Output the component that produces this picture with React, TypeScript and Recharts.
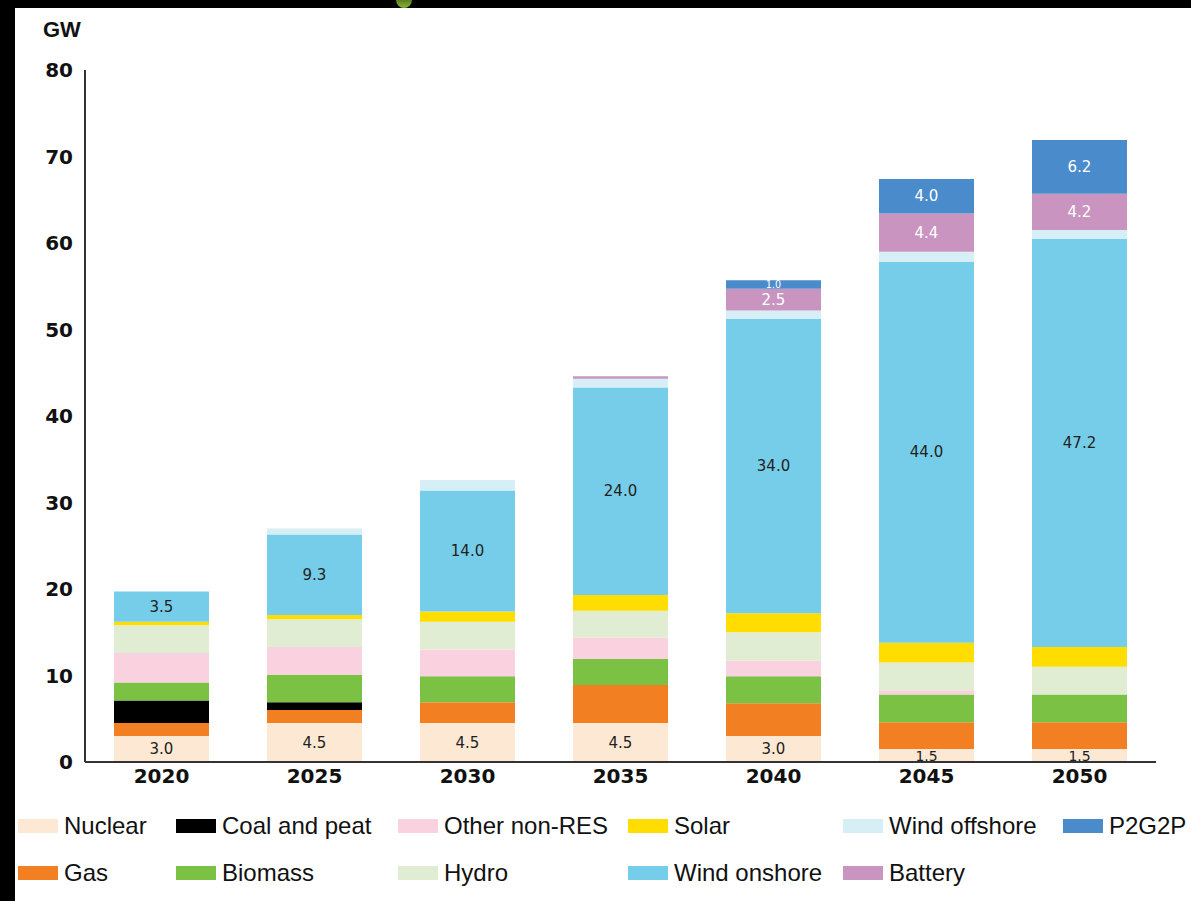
import { BarChart, Bar, XAxis, YAxis, LabelList } from "recharts";

const years = ["2020", "2025", "2030", "2035", "2040", "2045", "2050"];
const nuclear = [3.0, 4.5, 4.5, 4.5, 3.0, 1.5, 1.5];
const gas = [1.5, 1.5, 2.4, 4.4, 3.8, 3.1, 3.1];
const coal = [2.6, 0.9, 0, 0, 0, 0, 0];
const biomass = [2.1, 3.2, 3.0, 3.0, 3.1, 3.2, 3.2];
const otherNonRes = [3.4, 3.2, 3.1, 2.5, 1.8, 0.5, 0];
const hydro = [3.2, 3.2, 3.2, 3.1, 3.3, 3.2, 3.2];
const solar = [0.4, 0.5, 1.2, 1.8, 2.2, 2.3, 2.3];
const windOnshore = [3.5, 9.3, 14.0, 24.0, 34.0, 44.0, 47.2];
const windOffshore = [0, 0.7, 1.2, 1.0, 1.0, 1.2, 1.0];
const battery = [0, 0, 0, 0.3, 2.5, 4.4, 4.2];
const p2g2p = [0, 0, 0, 0, 1.0, 4.0, 6.2];
const yTicks = [0, 10, 20, 30, 40, 50, 60, 70, 80];

// bottom to top
const series = [
  { key: "nuclear", name: "Nuclear", values: nuclear, color: "#fde8d4", label: "#231f20" },
  { key: "gas", name: "Gas", values: gas, color: "#f28023" },
  { key: "coal", name: "Coal and peat", values: coal, color: "#000000" },
  { key: "biomass", name: "Biomass", values: biomass, color: "#7bc144" },
  { key: "other", name: "Other non-RES", values: otherNonRes, color: "#f9d1df" },
  { key: "hydro", name: "Hydro", values: hydro, color: "#e1edd3" },
  { key: "solar", name: "Solar", values: solar, color: "#ffdd00" },
  { key: "onshore", name: "Wind onshore", values: windOnshore, color: "#76cde9", label: "#231f20" },
  { key: "offshore", name: "Wind offshore", values: windOffshore, color: "#d6eef6" },
  { key: "battery", name: "Battery", values: battery, color: "#c994c0", label: "#ffffff" },
  { key: "p2g2p", name: "P2G2P", values: p2g2p, color: "#4a8ccb", label: "#ffffff" },
];

const data = years.map((year, i) => {
  const row: Record<string, any> = { year };
  series.forEach((s) => (row[s.key] = s.values[i]));
  return row;
});

// legend grid, column by column
const legendCols = [
  ["Nuclear", "Gas"],
  ["Coal and peat", "Biomass"],
  ["Other non-RES", "Hydro"],
  ["Solar", "Wind onshore"],
  ["Wind offshore", "Battery"],
  ["P2G2P"],
];
const colLeft = [18, 176, 398, 628, 843, 1063];
const rowMid = [826, 873];

const makeLabel = (fill: string) => (props: any) => {
  const { x, y, width, height, value } = props;
  if (value == null || value < 1) return null;
  const size = Math.min(15, Math.max(9, height + 1));
  return (
    <text
      x={x + width / 2}
      y={y + height / 2}
      textAnchor="middle"
      dominantBaseline="central"
      fill={fill}
      fontFamily="DejaVu Sans"
      fontSize={size}
    >
      {Number(value).toFixed(1)}
    </text>
  );
};

export default function App() {
  const colorOf = (name: string) => series.find((s) => s.name === name)!.color;
  return (
    <div style={{ position: "absolute", left: 0, top: 0, width: 1191, height: 901, background: "#000" }}>
      <div style={{ position: "absolute", left: 15, top: 8, width: 1176, height: 893, background: "#fff" }} />
      <div
        style={{
          position: "absolute",
          left: 396,
          top: 0,
          width: 16,
          height: 8,
          background: "linear-gradient(#5d7f1f, #8bb33a)",
          borderRadius: "0 0 50% 50% / 0 0 100% 100%",
        }}
      />
      <div
        style={{
          position: "absolute",
          left: 43,
          top: 19,
          fontFamily: "Liberation Sans, Arial, sans-serif",
          fontWeight: 700,
          fontSize: 22,
          lineHeight: "22px",
          color: "#111",
        }}
      >
        GW
      </div>
      <div style={{ position: "absolute", left: 0, top: 0 }}>
        <BarChart
          width={1191}
          height={800}
          data={data}
          margin={{ top: 70, right: 35, left: 0, bottom: 0 }}
        >
          <XAxis
            dataKey="year"
            height={38}
            tickLine={false}
            tickMargin={1}
            axisLine={{ stroke: "#333", strokeWidth: 2 }}
            tick={{ fill: "#111", fontFamily: "DejaVu Sans", fontWeight: 700, fontSize: 20 }}
          />
          <YAxis
            width={85}
            domain={[0, 80]}
            ticks={yTicks}
            tickLine={false}
            tickMargin={6}
            axisLine={{ stroke: "#333", strokeWidth: 2 }}
            tick={{ fill: "#111", fontFamily: "DejaVu Sans", fontWeight: 700, fontSize: 20 }}
          />
          {series.map((s) => (
            <Bar
              key={s.key}
              dataKey={s.key}
              name={s.name}
              stackId="a"
              fill={s.color}
              barSize={95}
              isAnimationActive={false}
            >
              {s.label && <LabelList dataKey={s.key} content={makeLabel(s.label)} />}
            </Bar>
          ))}
        </BarChart>
      </div>
      {legendCols.map((col, ci) =>
        col.map((name, ri) => (
          <div
            key={name}
            style={{
              position: "absolute",
              left: colLeft[ci],
              top: rowMid[ri] - 14,
              height: 28,
              display: "flex",
              alignItems: "center",
              fontFamily: "Liberation Sans, Arial, sans-serif",
              fontSize: 24,
              color: "#111",
              whiteSpace: "nowrap",
            }}
          >
            <span style={{ display: "inline-block", width: 40, height: 14, background: colorOf(name), marginRight: 6 }} />
            {name}
          </div>
        ))
      )}
    </div>
  );
}
